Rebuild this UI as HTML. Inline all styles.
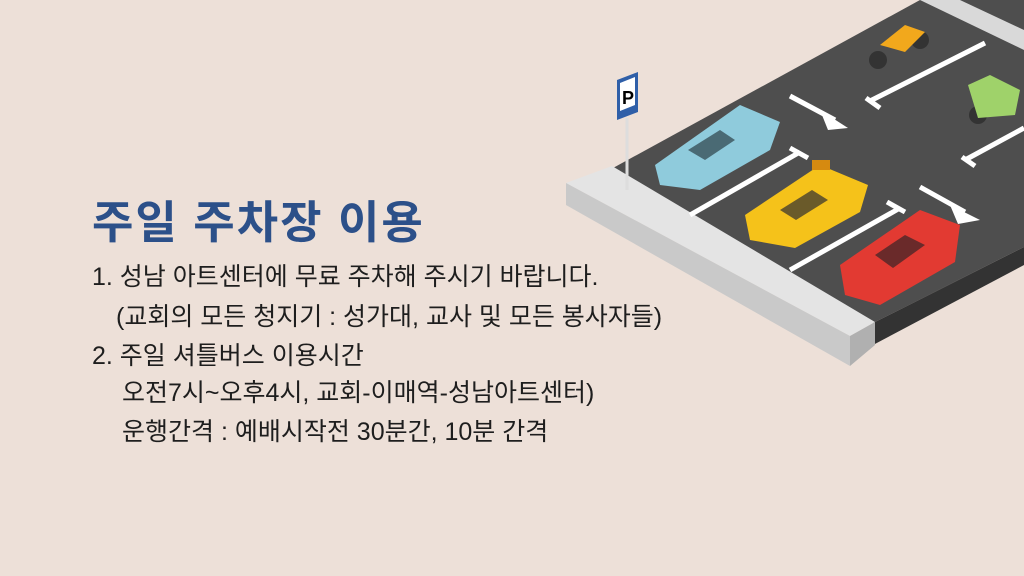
<!DOCTYPE html>
<html><head><meta charset="utf-8"><style>
body{margin:0;width:1024px;height:576px;background:#ede0d8;overflow:hidden;position:relative;font-family:"Liberation Sans","Noto Sans CJK KR",sans-serif}
.t{position:absolute;left:92px;top:186px;font-size:45px;font-weight:bold;color:#2c5089;letter-spacing:2px}
.l{position:absolute;font-size:25px;color:#1e1e1e;white-space:nowrap;letter-spacing:0px}
svg{position:absolute;left:0;top:0}
</style></head><body>
<svg width="1024" height="576">
<polygon points="613,168 920,0 1024,0 1024,247 873,323" fill="#4e4e4e"/>
<polygon points="920,0 960,0 1024,30 1024,50" fill="#d9d9d9"/>
<polygon points="873,323 1024,247 1024,265 873,345" fill="#333"/>
<polygon points="566,183 612,166 875,322 850,336" fill="#e4e4e4"/>
<polygon points="566,183 850,336 850,366 566,205" fill="#c9c9c9"/>
<polygon points="850,336 875,322 875,345 850,366" fill="#b0b0b0"/>
<g stroke="#fff" stroke-width="5" fill="none">
<line x1="690" y1="215" x2="800" y2="152"/><line x1="790" y1="148" x2="808" y2="158"/>
<line x1="790" y1="270" x2="900" y2="208"/><line x1="887" y1="202" x2="905" y2="212"/>
<line x1="870" y1="101" x2="985" y2="43"/><line x1="866" y1="98" x2="880" y2="108"/>
<line x1="965" y1="160" x2="1024" y2="128"/><line x1="962" y1="157" x2="975" y2="166"/>
<line x1="790" y1="96" x2="835" y2="120"/><line x1="920" y1="187" x2="965" y2="212"/>
</g>
<polygon points="820,110 848,128 828,130" fill="#fff"/>
<polygon points="950,205 980,220 958,224" fill="#fff"/>
<line x1="627" y1="118" x2="627" y2="190" stroke="#ddd" stroke-width="3"/>
<polygon points="617,80 638,72 638,112 617,120" fill="#2f5fa8"/>
<polygon points="620,83 635,77 635,105 620,111" fill="#fff"/>
<text x="622" y="104" font-size="18" font-family="Liberation Sans" font-weight="bold">P</text>
<polygon points="655,165 740,105 780,122 770,150 700,190 660,185" fill="#8fcbdc"/>
<polygon points="688,150 720,130 735,140 705,160" fill="#4a6a74"/>
<polygon points="745,215 820,165 868,185 860,212 795,248 750,240" fill="#f5c21a"/>
<rect x="812" y="160" width="18" height="10" fill="#d68a10"/>
<polygon points="780,210 812,190 828,200 796,220" fill="#6a5a2a"/>
<polygon points="840,265 920,210 960,225 955,262 880,305 845,295" fill="#e23a32"/>
<polygon points="875,255 905,235 925,245 893,268" fill="#6a2a2a"/>
<circle cx="878" cy="60" r="9" fill="#333"/><circle cx="920" cy="40" r="9" fill="#333"/>
<polygon points="880,45 905,25 925,32 905,52" fill="#f2a81c"/>
<circle cx="978" cy="115" r="9" fill="#333"/>
<polygon points="968,85 990,75 1020,90 1015,115 978,118" fill="#9fd26a"/>
</svg>
<div class="t">주일 주차장 이용</div>
<div class="l" style="left:92px;top:257px">1. 성남 아트센터에 무료 주차해 주시기 바랍니다.</div>
<div class="l" style="left:116px;top:297px">(교회의 모든 청지기 : 성가대, 교사 및 모든 봉사자들)</div>
<div class="l" style="left:92px;top:336px">2. 주일 셔틀버스 이용시간</div>
<div class="l" style="left:122px;top:373px">오전7시~오후4시, 교회-이매역-성남아트센터)</div>
<div class="l" style="left:122px;top:412px">운행간격 : 예배시작전 30분간, 10분 간격</div>
</body></html>
